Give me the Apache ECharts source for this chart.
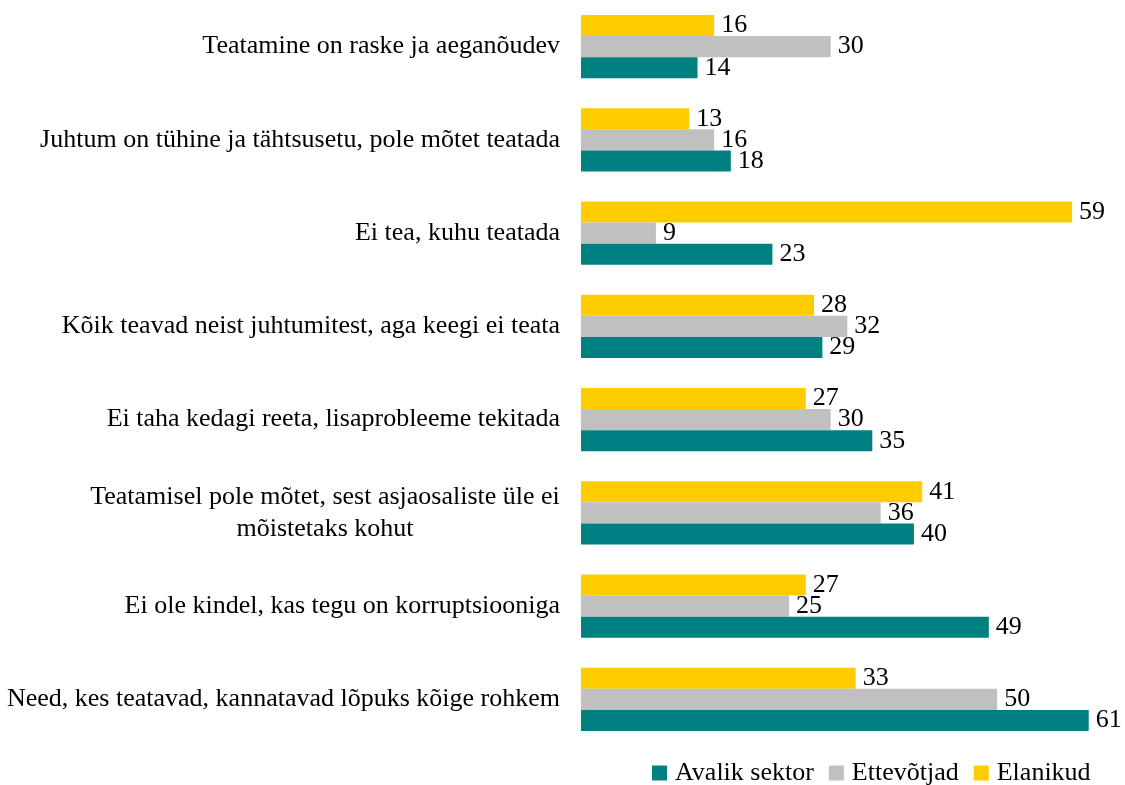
<!DOCTYPE html>
<html>
<head>
<meta charset="utf-8">
<script src="https://cdn.jsdelivr.net/npm/echarts@6/dist/echarts.min.js"></script>
<style>
html,body{margin:0;padding:0;background:#fff;}
#chart{width:1125px;height:785px;}
</style>
</head>
<body>
<div id="chart"></div>
<script>
// Categories listed top to bottom as in the reference
const categories = [
  "Teatamine on raske ja aeganõudev",
  "Juhtum on tühine ja tähtsusetu, pole mõtet teatada",
  "Ei tea, kuhu teatada",
  "Kõik teavad neist juhtumitest, aga keegi ei teata",
  "Ei taha kedagi reeta, lisaprobleeme tekitada",
  "Teatamisel pole mõtet, sest asjaosaliste üle ei mõistetaks kohut",
  "Ei ole kindel, kas tegu on korruptsiooniga",
  "Need, kes teatavad, kannatavad lõpuks kõige rohkem"
];
const avalikSektor = [14, 18, 23, 29, 35, 40, 49, 61];
const ettevotjad   = [30, 16, 9, 32, 30, 36, 25, 50];
const elanikud     = [16, 13, 59, 28, 27, 41, 27, 33];
const seriesNames = ["Avalik sektor", "Ettevõtjad", "Elanikud"];
const seriesColors = ["#008080", "#C0C0C0", "#FFCC00"];

const FONT = "'Liberation Serif', 'Times New Roman', serif";
const FS = 26;
const wrapLabels = {
  "Teatamisel pole mõtet, sest asjaosaliste üle ei mõistetaks kohut":
    "{c|Teatamisel pole mõtet, sest asjaosaliste üle ei}\n{c|mõistetaks kohut}"
};

const chart = echarts.init(document.getElementById('chart'));
const rev = a => a.slice().reverse();
const seriesData = [avalikSektor, ettevotjad, elanikud];

// draw order: Elanikud on top of each group, Avalik sektor at the bottom
const order = [2, 1, 0];

chart.setOption({
  animation: false,
  textStyle: { fontFamily: FONT },
  grid: { left: 581, top: -5, width: 541, height: 751, containLabel: false },
  xAxis: {
    type: 'value', min: 0, max: 65,
    show: false
  },
  yAxis: {
    type: 'category',
    data: rev(categories),
    axisLine: { show: false },
    axisTick: { show: false },
    axisLabel: {
      margin: 21,
      fontFamily: FONT,
      fontSize: FS,
      color: '#000',
      formatter: v => wrapLabels[v] || v,
      rich: { c: { width: 470, align: 'center', fontSize: FS, fontFamily: FONT, color: '#000', lineHeight: 32 } }
    }
  },
  legend: {
    top: 760,
    left: 652,
    padding: 0,
    itemWidth: 15, itemHeight: 15,
    itemGap: 15,
    icon: 'rect',
    textStyle: { fontFamily: FONT, fontSize: FS, color: '#000', padding: [0, 0, 0, 3] },
    data: seriesNames
  },
  series: order.map(i => ({
    name: seriesNames[i],
    type: 'bar',
    data: rev(seriesData[i]),
    barGap: '0%',
    barCategoryGap: '32%',
    itemStyle: { color: seriesColors[i] },
    label: {
      show: true, position: 'right', distance: 7,
      fontFamily: FONT, fontSize: FS, color: '#000'
    }
  }))
});
</script>
</body>
</html>
